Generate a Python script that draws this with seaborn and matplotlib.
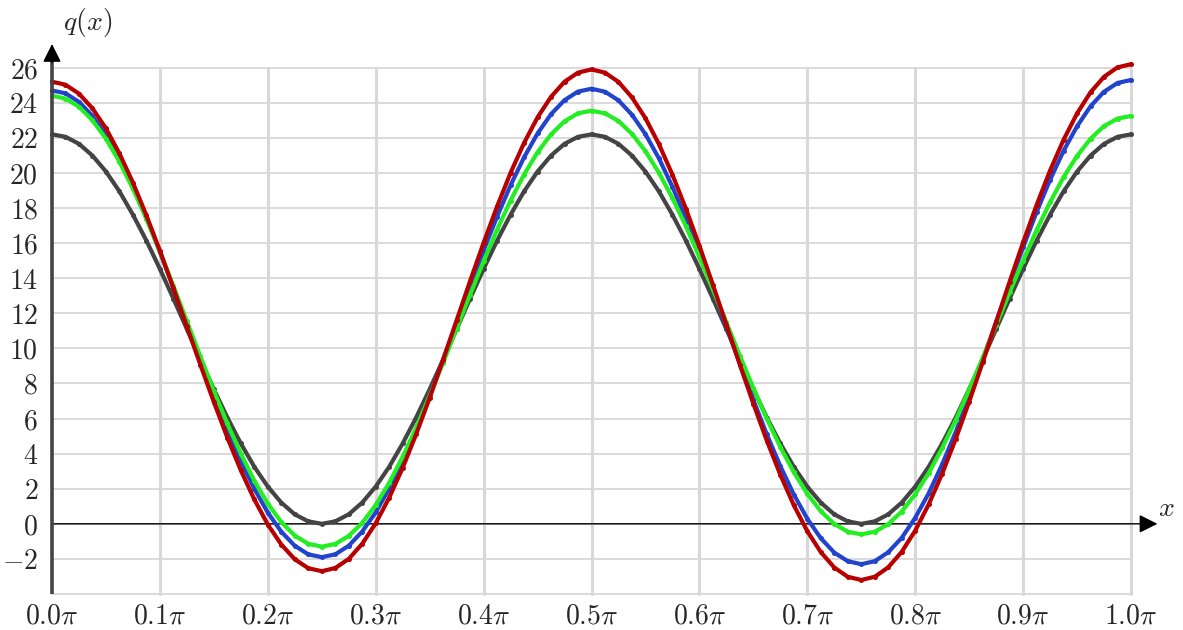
import numpy as np
import matplotlib
matplotlib.use("Agg")
import matplotlib.pyplot as plt
import seaborn as sns
import pandas as pd

# x positions in units of pi
x_pi = np.round(np.linspace(0.0, 1.0, 81), 4)

black = [22.20, 22.06, 21.66, 20.99, 20.08, 18.95, 17.62, 16.14, 14.53, 12.84, 11.10,
         9.36, 7.67, 6.06, 4.58, 3.25, 2.12, 1.21, 0.54, 0.14, 0.00,
         0.14, 0.54, 1.21, 2.12, 3.25, 4.58, 6.06, 7.67, 9.36, 11.10,
         12.84, 14.53, 16.14, 17.62, 18.95, 20.08, 20.99, 21.66, 22.06, 22.20,
         22.06, 21.66, 20.99, 20.08, 18.95, 17.62, 16.14, 14.53, 12.84, 11.10,
         9.36, 7.67, 6.06, 4.58, 3.25, 2.12, 1.21, 0.54, 0.14, 0.00,
         0.14, 0.54, 1.21, 2.12, 3.25, 4.58, 6.06, 7.67, 9.36, 11.10,
         12.84, 14.53, 16.14, 17.62, 18.95, 20.08, 20.99, 21.66, 22.06, 22.20]

red = [25.20, 25.03, 24.52, 23.68, 22.54, 21.11, 19.45, 17.58, 15.56, 13.43, 11.25,
       9.07, 6.94, 4.92, 3.05, 1.39, -0.04, -1.18, -2.02, -2.53, -2.70,
       -2.52, -2.00, -1.14, 0.03, 1.49, 3.19, 5.11, 7.18, 9.36, 11.60,
       13.84, 16.02, 18.09, 20.01, 21.71, 23.17, 24.34, 25.20, 25.72, 25.90,
       25.72, 25.19, 24.31, 23.12, 21.64, 19.90, 17.96, 15.85, 13.63, 11.35,
       9.07, 6.85, 4.74, 2.80, 1.06, -0.42, -1.61, -2.49, -3.02, -3.20,
       -3.02, -2.48, -1.60, -0.39, 1.11, 2.86, 4.83, 6.96, 9.20, 11.50,
       13.80, 16.04, 18.17, 20.14, 21.89, 23.39, 24.60, 25.48, 26.02, 26.20]

blue = [24.70, 24.54, 24.05, 23.25, 22.16, 20.80, 19.22, 17.44, 15.51, 13.48, 11.40,
        9.32, 7.29, 5.36, 3.58, 2.00, 0.64, -0.45, -1.25, -1.74, -1.90,
        -1.74, -1.25, -0.44, 0.65, 2.01, 3.60, 5.39, 7.32, 9.36, 11.45,
        13.54, 15.58, 17.51, 19.30, 20.89, 22.25, 23.35, 24.15, 24.64, 24.80,
        24.63, 24.14, 23.32, 22.21, 20.83, 19.21, 17.40, 15.44, 13.37, 11.25,
        9.13, 7.06, 5.10, 3.29, 1.67, 0.29, -0.82, -1.64, -2.13, -2.30,
        -2.13, -1.62, -0.80, 0.34, 1.74, 3.39, 5.23, 7.24, 9.34, 11.50,
        13.66, 15.76, 17.77, 19.61, 21.26, 22.66, 23.80, 24.63, 25.13, 25.30]

green = [24.40, 24.24, 23.77, 23.00, 21.95, 20.64, 19.10, 17.38, 15.52, 13.56, 11.55,
         9.54, 7.58, 5.72, 4.00, 2.46, 1.15, 0.10, -0.67, -1.14, -1.30,
         -1.15, -0.69, 0.05, 1.07, 2.34, 3.82, 5.48, 7.29, 9.18, 11.13,
         13.07, 14.96, 16.77, 18.43, 19.91, 21.18, 22.20, 22.94, 23.40, 23.55,
         23.40, 22.96, 22.23, 21.24, 20.01, 18.57, 16.96, 15.21, 13.36, 11.48,
         9.59, 7.74, 5.99, 4.38, 2.94, 1.71, 0.72, -0.01, -0.45, -0.60,
         -0.45, -0.02, 0.70, 1.68, 2.89, 4.32, 5.91, 7.64, 9.46, 11.33,
         13.19, 15.01, 16.74, 18.33, 19.76, 20.97, 21.95, 22.67, 23.10, 23.25]

x_ticks = [0.0, 0.1, 0.2, 0.3, 0.4, 0.5, 0.6, 0.7, 0.8, 0.9, 1.0]
x_tick_labels = [r"$%.1f\pi$" % t for t in x_ticks]
y_ticks = list(range(-2, 27, 2))
y_tick_labels = [r"$%d$" % t if t >= 0 else r"$-%d$" % (-t) for t in y_ticks]

sns.set_theme(style="white")
plt.rcParams["mathtext.fontset"] = "cm"
plt.rcParams["font.family"] = ["DejaVu Serif"]

fig = plt.figure(figsize=(11.83, 6.30), dpi=100)
ax = fig.add_axes([52 / 1183, 36 / 630, (1131 - 52) / 1183, (594 - 67.7) / 630])

df = pd.DataFrame({"x": x_pi, "black": black, "blue": blue, "green": green, "red": red})
series = [("black", "#444444"), ("blue", "#2244cc"), ("green", "#22ee22"), ("red", "#b80000")]

# grid
for yv in range(-4, 27, 2):
    ax.plot([0, 1], [yv, yv], color="#d8d8d8", lw=1.3, zorder=0, clip_on=False)
for xv in x_ticks[1:]:
    ax.plot([xv, xv], [-4, 26], color="#d8d8d8", lw=2.2, zorder=0, clip_on=False)

for name, col in series:
    sns.lineplot(data=df, x="x", y=name, color=col, lw=3.0, marker="o",
                 markersize=3.6, markeredgewidth=0, ax=ax, clip_on=False, zorder=3)

# axes lines with arrows
ax.plot([0, 0], [-4, 26.6], color="#444444", lw=2.6, zorder=4, clip_on=False,
        solid_capstyle="butt")
ax.annotate("", xy=(0, 27.35), xytext=(0, 26.3),
            arrowprops=dict(arrowstyle="-|>", color="black", lw=1.0, mutation_scale=28,
                            shrinkA=0, shrinkB=0), annotation_clip=False, zorder=5)
ax.annotate("", xy=(1.0245, 0), xytext=(0, 0),
            arrowprops=dict(arrowstyle="-|>", color="black", lw=1.0, mutation_scale=28,
                            shrinkA=0, shrinkB=0), annotation_clip=False, zorder=2)

ax.text(0.0334, 28.6, r"$q(x)$", fontsize=20, ha="center", va="center")
ax.text(1.033, 0.9, r"$x$", fontsize=20, ha="center", va="center")

ax.set_xlim(0, 1)
ax.set_ylim(-4, 26)
ax.set_xticks(x_ticks)
ax.set_xticklabels(x_tick_labels, fontsize=20)
ax.set_yticks(y_ticks)
ax.set_yticklabels(y_tick_labels, fontsize=20)
ax.tick_params(axis="x", length=0, pad=6)
ax.tick_params(axis="y", length=0, pad=10)
ax.set_xlabel("")
ax.set_ylabel("")
for s in ax.spines.values():
    s.set_visible(False)
ax.patch.set_alpha(0)

fig.savefig("out.png", dpi=100)
